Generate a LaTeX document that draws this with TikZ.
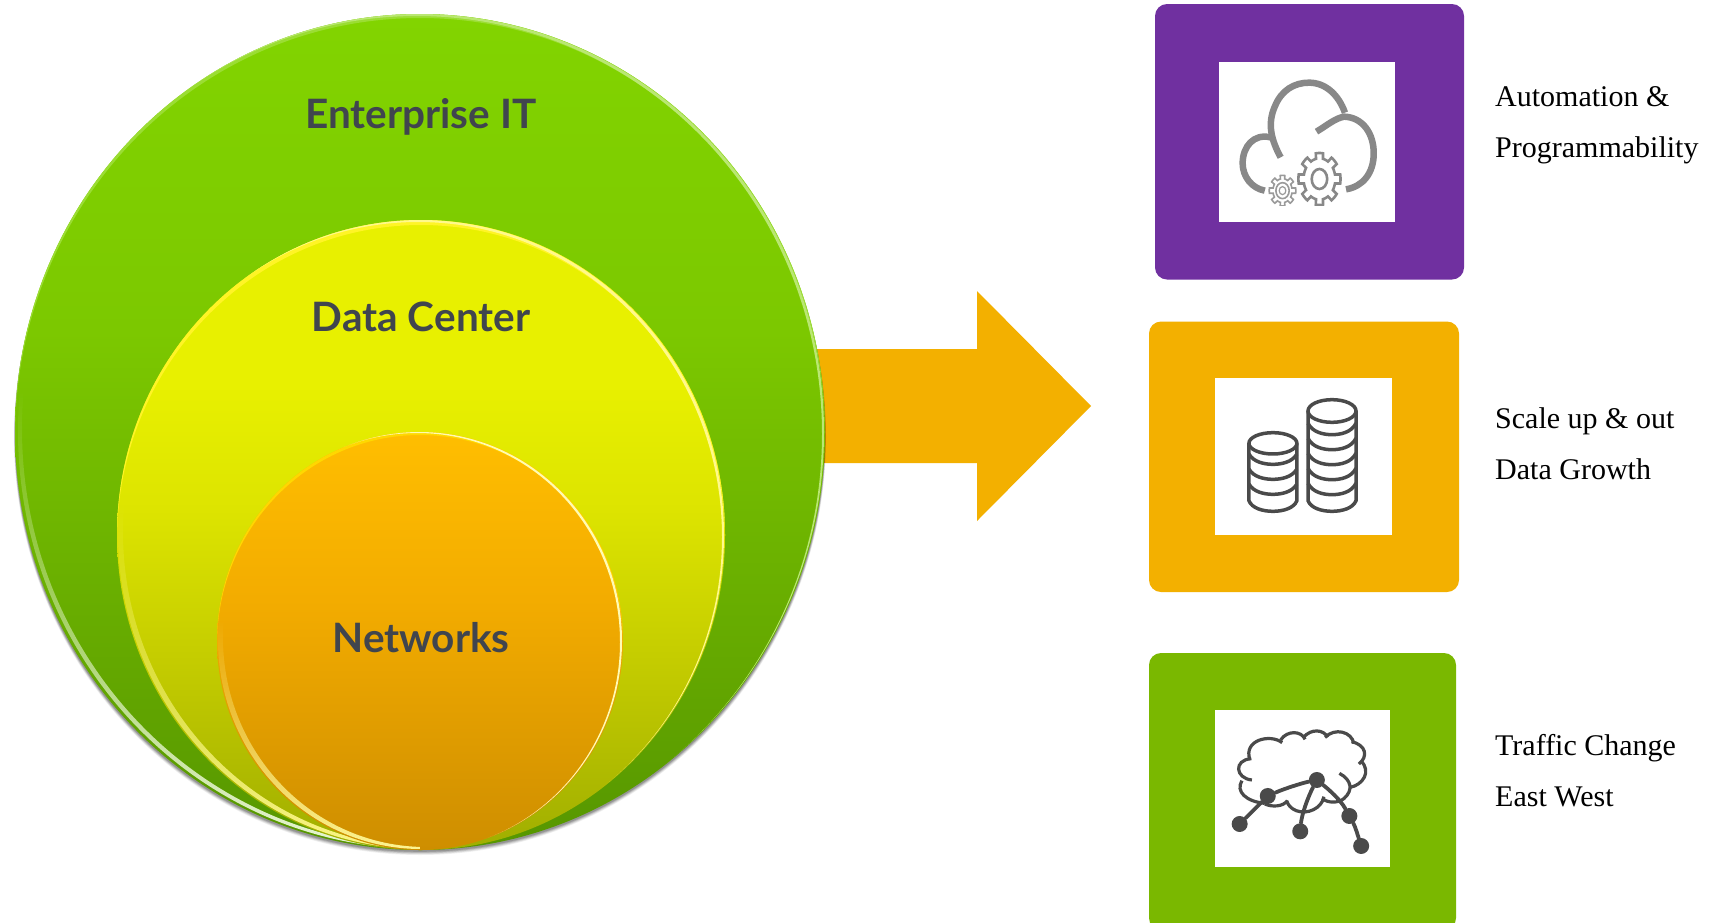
\documentclass[tikz,border=0pt]{standalone}
\usepackage{fontspec}
\usetikzlibrary{fadings}
\setmainfont{Liberation Serif}
\newfontfamily\labelsans{Lato}
\definecolor{cPurple}{HTML}{7030A0}
\definecolor{cOrange}{HTML}{F3B000}
\definecolor{cGreen}{HTML}{7AB800}
\definecolor{cInk}{HTML}{40454E}
\definecolor{cIconA}{HTML}{888888}
\definecolor{cIconB}{HTML}{4A4A4A}
\definecolor{oA}{HTML}{82D400}\definecolor{oB}{HTML}{7CC800}\definecolor{oC}{HTML}{6FB600}\definecolor{oD}{HTML}{569600}
\definecolor{mA}{HTML}{E8F000}\definecolor{mB}{HTML}{DDE400}\definecolor{mC}{HTML}{C4CC00}\definecolor{mD}{HTML}{A0AE00}
\definecolor{iA}{HTML}{FFBE00}\definecolor{iB}{HTML}{F3AC00}\definecolor{iC}{HTML}{CE8E00}
\pgfdeclareverticalshading{outerg}{100bp}{color(0bp)=(oD); color(25bp)=(oD); color(45bp)=(oC); color(56bp)=(oB); color(75bp)=(oA); color(100bp)=(oA)}
\pgfdeclareverticalshading{midg}{100bp}{color(0bp)=(mD); color(25bp)=(mD); color(40bp)=(mC); color(52bp)=(mB); color(62bp)=(mA); color(75bp)=(mA); color(100bp)=(mA)}
\pgfdeclareverticalshading{inng}{100bp}{color(0bp)=(iC); color(25bp)=(iC); color(55bp)=(iB); color(75bp)=(iA); color(100bp)=(iA)}
\tikzfading[name=rimfade, top color=transparent!100, bottom color=transparent!0]
% crescent inside an ellipse: \rimarc{cx}{cy}{rx}{ry}{dx1}{dy1}{dx2}{dy2}{colour}
\newcommand{\rimarc}[9]{%
  \begin{scope}
    \clip (#1,#2) ellipse [x radius=#3, y radius=#4];
    \clip (#1+#5,#2+#6) ellipse [x radius=#3, y radius=#4];
    \fill[#9, even odd rule] (0,0) rectangle (1709,922) (#1+#7,#2+#8) ellipse [x radius=#3, y radius=#4];
  \end{scope}}
% same, on the lower half only and growing stronger downward
\newcommand{\lowrim}[9]{%
  \begin{scope}[even odd rule]
    \clip (#1,#2) ellipse [x radius=#3, y radius=#4];
    \clip (#1+#5,#2+#6) ellipse [x radius=#3, y radius=#4];
    \clip (0,0) rectangle (1709,922) (#1+#7,#2+#8) ellipse [x radius=#3, y radius=#4];
    \fill[#9, path fading=rimfade] (#1-#3-10,#2-#4*0.1) rectangle (#1,#2+#4+10);
  \end{scope}}
\tikzset{
  tile/.style={rounded corners=12pt},
  sidetext/.style={anchor=west, align=left, inner sep=0pt, text=black, font=\fontsize{30}{51}\selectfont},
  ringlabel/.style={anchor=base, inner sep=0pt, text=cInk, font=\labelsans\bfseries\fontsize{40.5}{46}\selectfont},
  dot/.style={circle, fill=cIconB, inner sep=0pt, minimum size=16pt},
  netlink/.style={draw=cIconB, line width=3.8pt, line cap=round},
  netcloud/.style={draw=cIconB, line width=3.2pt, line cap=butt},
  stack/.style={draw=cIconB, line width=3.5pt}
}
\begin{document}
\begin{tikzpicture}[x=1pt,y=-1pt]
\path[use as bounding box] (0,0) rectangle (1709,922);
\fill[white] (0,0) rectangle (1709,922);

% block arrow
\fill[cOrange] (815,349) -- (977,349) -- (977,291) -- (1091,406) -- (977,521) -- (977,463) -- (815,463) -- cycle;

% soft shadow
\foreach \d/\op in {5/0.06,4/0.08,3/0.10,2/0.12,1/0.14}
  \fill[black, opacity=\op] (420,433+\d*0.8) ellipse [x radius=405+\d*0.2, y radius=418];

% outer disc
\shade[shading=outerg] (420,432) ellipse [x radius=405, y radius=418];
\rimarc{420}{432}{405}{418}{0}{0}{0}{4}{oA!80!white}
\lowrim{420}{432}{405}{418}{3}{-1}{7}{-3}{white!85!oA}
\rimarc{420}{432}{405}{418}{-1}{0}{-3}{2}{oA!55!white}

% middle disc
\shade[shading=midg] (421,535) ellipse [x radius=304, y radius=315];
\rimarc{421}{535}{304}{315}{0}{0}{0}{5}{yellow!85!white}
\lowrim{421}{535}{304}{315}{1}{-1}{6}{-3}{yellow!45!white}
\rimarc{421}{535}{304}{315}{-1}{0}{-3}{2}{yellow!45!white}

% inner disc
\shade[shading=inng] (420,641) ellipse [x radius=203, y radius=209];
\rimarc{420}{641}{203}{209}{0}{0}{0}{3}{iA!60!yellow}
\lowrim{420}{641}{203}{209}{1}{-1}{6}{-3}{yellow!40!white}
\rimarc{420}{641}{203}{209}{-1}{0}{-3}{1}{yellow!30!white}

% ring labels
\node[ringlabel] (lblEnt) at (421,128) {Enterprise IT};
\node[ringlabel] (lblDc) at (421,331) {Data Center};
\node[ringlabel] (lblNet) at (421,652) {Networks};

% tiles
\fill[cPurple, tile] (1155,4) rectangle (1464,279.5);
\fill[white] (1219,62) rectangle (1395,222);
\fill[cOrange, tile] (1149,321.5) rectangle (1459,592);
\fill[white] (1215,378) rectangle (1392,535);
\fill[cGreen, tile] (1149,653) rectangle (1456,930);
\fill[white] (1215,710) rectangle (1390,867);

% side text
\node[sidetext] (txtA) at (1495,125) {Automation \&\\Programmability};
\node[sidetext] (txtB) at (1495,444) {Scale up \& out\\Data Growth};
\node[sidetext] (txtC) at (1495,771) {Traffic Change\\East West};

% cloud + gears icon (coordinates in crop pixels)
\begin{scope}[shift={(1130,0)}, xscale=0.3693, yscale=0.3333]
  \begin{scope}[draw=cIconA, line width=6.5pt]
    \draw (408,472) .. controls (385,425) and (370,375) .. (392,320)
                    .. controls (410,270) and (445,248) .. (485,248)
                    .. controls (530,248) and (565,285) .. (582,338);
    \draw (380,412) .. controls (335,400) and (305,440) .. (305,490)
                    .. controls (305,530) and (330,565) .. (365,572);
    \draw (505,395) .. controls (535,375) and (555,355) .. (580,350)
                    .. controls (630,352) and (660,400) .. (660,460)
                    .. controls (660,520) and (630,560) .. (585,568);
  \end{scope}
  \begin{scope}
    \clip (350,440) rectangle (600,617);
    \draw[cIconA, line width=2.6pt] plot[domain=0:360, samples=145]
      ({513+(50+7*sign(cos(8*\x)))*cos(\x)},{537+(70+8*sign(cos(8*\x)))*sin(\x)});
    \draw[cIconA, line width=2.6pt] (513,537) ellipse [x radius=21, y radius=30];
    \draw[cIconA!85!white, line width=1.6pt] plot[domain=0:360, samples=145]
      ({413+(31+5*sign(cos(8*\x)))*cos(\x)},{572+(41+5*sign(cos(8*\x)))*sin(\x)});
    \draw[cIconA!85!white, line width=1.6pt] (413,572) ellipse [x radius=18, y radius=24];
    \draw[cIconA!85!white, line width=1.2pt] (413,572) ellipse [x radius=9, y radius=12];
  \end{scope}
\end{scope}

% stacks icon
\begin{scope}[shift={(1130,310)}, xscale=0.3693, yscale=0.3333]
  \draw[stack] (387,400) ellipse [x radius=65, y radius=32];
  \draw[stack] (322,400) -- (322,572) .. controls (330,595) and (360,604) .. (387,604)
        .. controls (414,604) and (444,595) .. (452,572) -- (452,400);
  \foreach \y in {432,477,522}
    \draw[stack] (322,\y) .. controls (335,\y+25) and (365,\y+31) .. (387,\y+31)
        .. controls (409,\y+31) and (439,\y+25) .. (452,\y);
  \draw[stack] (547,303) ellipse [x radius=65, y radius=34];
  \draw[stack] (482,303) -- (482,572) .. controls (490,595) and (520,604) .. (547,604)
        .. controls (574,604) and (604,595) .. (612,572) -- (612,303);
  \foreach \y in {340,385,430,475,520}
    \draw[stack] (482,\y) .. controls (495,\y+28) and (525,\y+34) .. (547,\y+34)
        .. controls (569,\y+34) and (599,\y+28) .. (612,\y);
\end{scope}

% network cloud icon
\begin{scope}[shift={(1130,640)}, xscale=0.3693, yscale=0.3333]
  \draw[netcloud] (330,420) .. controls (285,415) and (280,360) .. (328,356);
  \draw[netcloud] (325,360) .. controls (305,300) and (380,280) .. (412,308);
  \draw[netcloud] (408,300) .. controls (425,270) and (465,272) .. (474,298);
  \draw[netcloud] (470,292) .. controls (490,265) and (525,268) .. (535,292);
  \draw[netcloud] (528,292) .. controls (555,262) and (600,275) .. (606,310);
  \draw[netcloud] (600,305) .. controls (640,315) and (645,350) .. (620,372);
  \draw[netcloud] (625,362) .. controls (655,395) and (630,435) .. (596,442);
  \draw[netcloud] (567,400) .. controls (600,420) and (605,450) .. (580,475)
        .. controls (565,490) and (535,490) .. (520,475);
  \draw[netcloud] (525,470) .. controls (520,505) and (480,525) .. (450,512)
        .. controls (435,505) and (428,495) .. (424,482);
  \draw[netcloud] (426,482) .. controls (415,500) and (385,502) .. (365,492);
  \draw[netcloud] (365,490) .. controls (315,485) and (285,455) .. (303,422);
  \node[dot] (n1) at (373,468) {};
  \node[dot] (n2) at (506,420) {};
  \node[dot] (n3) at (297,552) {};
  \node[dot] (n4) at (461,574) {};
  \node[dot] (n5) at (594,528) {};
  \node[dot] (n6) at (626,618) {};
  \draw[netlink] (n3) -- (n1);
  \draw[netlink] (n1) .. controls (420,445) and (470,428) .. (n2);
  \draw[netlink] (n2) .. controls (480,475) and (465,525) .. (n4);
  \draw[netlink] (n2) .. controls (540,450) and (570,480) .. (n5);
  \draw[netlink] (n5) .. controls (610,560) and (618,590) .. (n6);
\end{scope}
\end{tikzpicture}
\end{document}
